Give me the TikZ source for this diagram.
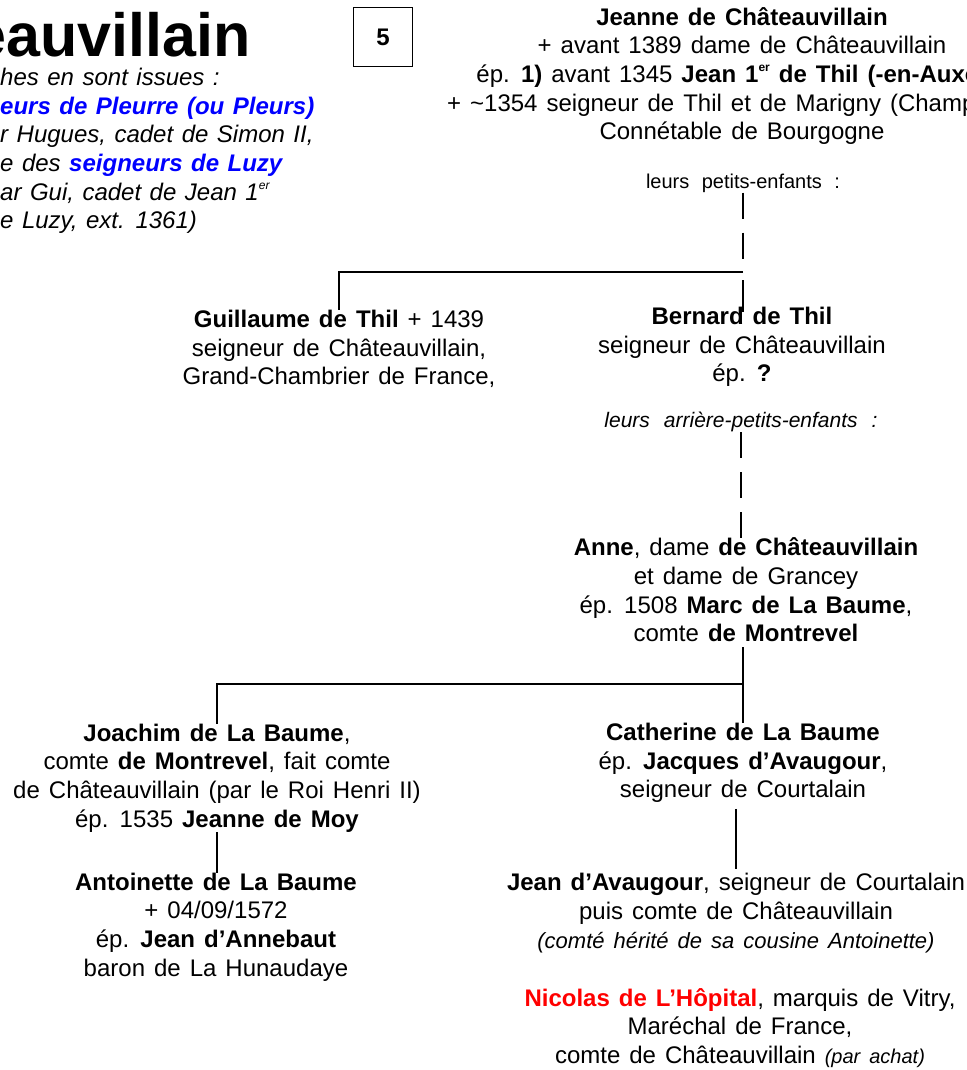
\documentclass[tikz,border=0pt]{standalone}
\usepackage{fontspec}
\setmainfont{Liberation Sans}
\newcommand\gentxt{\fontsize{24}{28.6}\selectfont\spaceskip=9pt plus 2pt minus 1pt\relax}
\newcommand\smalltxt{\fontsize{20}{24}\selectfont\spaceskip=12.5pt plus 2pt minus 1pt\relax}
\newcommand\arrtxt{\fontsize{21}{24}\selectfont\itshape\spaceskip=14pt plus 2pt minus 1pt\relax}
\newcommand\branchtxt{\fontsize{24}{28.6}\selectfont\itshape\spaceskip=8.5pt plus 2pt minus 1pt\relax}
\newcommand\exps[1]{\raisebox{0.45em}{\fontsize{12}{12}\selectfont #1}}
\tikzset{
  person/.style={align=center,inner sep=0pt,font=\gentxt},
  note/.style={inner sep=0pt,font=\smalltxt},
  link/.style={line width=2.4pt},
  dashlink/.style={link,dash pattern=on 26pt off 14pt},
  numbox/.style={draw,line width=1.2pt,minimum size=59pt,inner sep=0pt,font=\gentxt\bfseries}
}
\begin{document}
\begin{tikzpicture}[x=1pt,y=-1pt]
  \useasboundingbox (0,0) rectangle (966,1070);
  \fill[white] (0,0) rectangle (966,1070);
  \clip (0,0) rectangle (966,1070);
  \node[anchor=base east,inner sep=0pt,font=\bfseries\fontsize{61}{61}\selectfont] (title) at (251,57) {eauvillain};
  \node[anchor=west,align=left,inner sep=0pt,font=\branchtxt] (branches) at (0,151)
    {hes en sont issues :\\
     \textcolor{blue}{\bfseries eurs de Pleurre (ou Pleurs)}\\
     r Hugues, cadet de Simon II,\\
     e des \textcolor{blue}{\bfseries seigneurs de Luzy}\\
     ar Gui, cadet de Jean 1\exps{er}\\
     e Luzy, ext. 1361)};
  \node[numbox] (num) at (383,37) {5};
  \node[person] (jeanne) at (742,76)
    {\textbf{Jeanne de Châteauvillain}\\
     + avant 1389 dame de Châteauvillain\\
     ép. \textbf{1)} avant 1345 \textbf{Jean 1\exps{er} de Thil (-en-Auxois)}\\
     + \textasciitilde1354 seigneur de Thil et de Marigny (Champagne)\\
     Connétable de Bourgogne};
  \node[note] (petits) at (743,183) {leurs petits-enfants :};
  \node[person] (guillaume) at (339,349)
    {\textbf{Guillaume de Thil} + 1439\\ seigneur de Châteauvillain,\\ Grand-Chambrier de France,};
  \node[person] (bernard) at (742,347)
    {\textbf{Bernard de Thil}\\ seigneur de Châteauvillain\\ ép. \textbf{?}};
  \node[note,font=\arrtxt] (arriere) at (741,422) {leurs arrière-petits-enfants :};
  \node[person] (anne) at (746,590)
    {\textbf{Anne}, dame \textbf{de Châteauvillain}\\ et dame de Grancey\\
     ép. 1508 \textbf{Marc de La Baume},\\ comte \textbf{de Montrevel}};
  \node[person] (joachim) at (217,778)
    {\textbf{Joachim de La Baume},\\ comte \textbf{de Montrevel}, fait comte\\
     de Châteauvillain (par le Roi Henri II)\\ ép. 1535 \textbf{Jeanne de Moy}};
  \node[person] (catherine) at (743,763)
    {\textbf{Catherine de La Baume}\\ ép. \textbf{Jacques d’Avaugour},\\ seigneur de Courtalain};
  \node[person] (antoinette) at (216,927)
    {\textbf{Antoinette de La Baume}\\ + 04/09/1572\\ ép. \textbf{Jean d’Annebaut}\\ baron de La Hunaudaye};
  \node[person] (avaugour) at (736,913)
    {\textbf{Jean d’Avaugour}, seigneur de Courtalain\\ puis comte de Châteauvillain\\
     {\itshape\fontsize{22}{28.6}\selectfont (comté hérité de sa cousine Antoinette)}};
  \node[person] (nicolas) at (740,1028)
    {\textcolor{red}{\textbf{Nicolas de L’Hôpital}}, marquis de Vitry,\\ Maréchal de France,\\
     comte de Châteauvillain {\itshape\fontsize{20}{28.6}\selectfont (par achat)}};
  \coordinate (j1) at (743,272);
  \coordinate (j2) at (743,684);
  \draw[dashlink] (petits.south -| j1) -- (j1);
  \draw[link] (j1) -| (guillaume.north);
  \draw[link] ([yshift=-8pt]j1) -- ([yshift=-5pt]bernard.north -| j1);
  \draw[dashlink] (arriere.south) -- (arriere.south |- anne.north);
  \draw[link] ([yshift=-5pt]anne.south -| j2) -- (catherine.north -| j2);
  \draw[link] (j2) -| (joachim.north);
  \draw[link] (joachim.south) -- (joachim.south |- antoinette.north);
  \draw[link] ([yshift=-6pt]catherine.south -| avaugour.north) -- ([yshift=4pt]avaugour.north);
\end{tikzpicture}
\end{document}
